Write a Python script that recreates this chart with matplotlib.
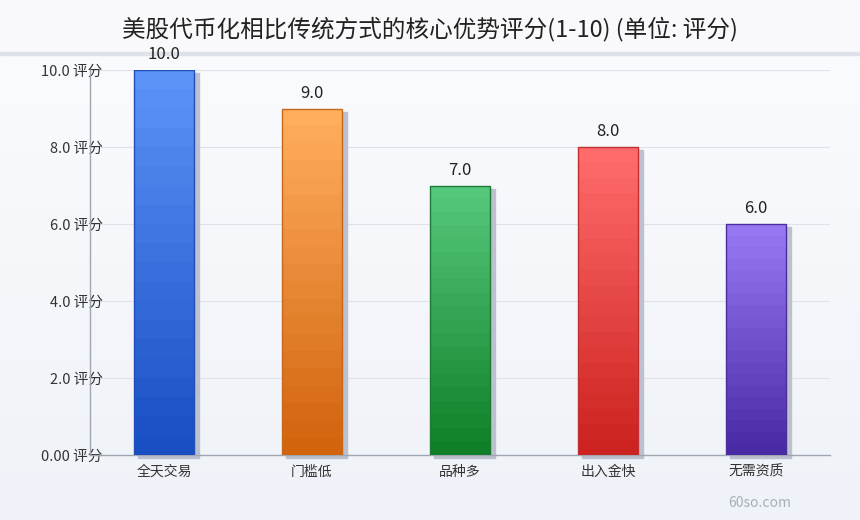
import numpy as np
import matplotlib
matplotlib.use("Agg")
import matplotlib.pyplot as plt
from matplotlib.colors import LinearSegmentedColormap
from matplotlib.patches import Rectangle

plt.rcParams["font.family"] = ["Noto Sans CJK SC", "DejaVu Sans"]

TITLE = "美股代币化相比传统方式的核心优势评分(1-10) (单位: 评分)"
categories = ["全天交易", "门槛低", "品种多", "出入金快", "无需资质"]
scores = [10.0, 9.0, 7.0, 8.0, 6.0]
y_ticks = [0, 2, 4, 6, 8, 10]
y_tick_labels = ["0.00 评分", "2.0 评分", "4.0 评分", "6.0 评分", "8.0 评分", "10.0 评分"]
top_colors = ["#5b93f7", "#ffae5e", "#56c87c", "#ff6b6b", "#9878f2"]
bottom_colors = ["#1a4fc4", "#d2640e", "#108028", "#cc2320", "#4a2ba6"]
edge_colors = ["#1f4fb8", "#c8671a", "#1c7a34", "#c03030", "#4a2e9e"]

W, H = 860, 520
fig = plt.figure(figsize=(W / 100, H / 100), dpi=100)

# background
bg = fig.add_axes([0, 0, 1, 1], zorder=-10)
bg.set_axis_off()
grad = np.linspace(0, 1, 256).reshape(-1, 1)
bg_cmap = LinearSegmentedColormap.from_list("bg", ["#fbfcfe", "#eff2f8"])
bg.imshow(grad, aspect="auto", cmap=bg_cmap, extent=[0, 1, 0, 1], origin="upper")
bg.set_xlim(0, 1)
bg.set_ylim(0, 1)
bg.add_patch(Rectangle((0, 1 - 55 / H), 1, 55 / H, color="#f9f9fb", zorder=1))
bg.add_patch(Rectangle((0, 1 - 55 / H), 1, 3 / H, color="#dfe1e8", zorder=2))

fig.text(0.5, 1 - 29 / H, TITLE, ha="center", va="center", fontsize=17, color="#222222")
fig.text(760 / W, 1 - 503 / H, "60so.com", ha="center", va="center", fontsize=10, color="#a8adba")

ax = fig.add_axes([90 / W, 65 / H, 740 / W, 385 / H])
ax.patch.set_alpha(0)
x = np.arange(len(categories))
width = 0.41

for i, (val, c0, c1, ec) in enumerate(zip(scores, top_colors, bottom_colors, edge_colors)):
    # shadow
    ax.add_patch(Rectangle((x[i] - width / 2 + 0.03, -0.08), width, val, color="#bcc0cf",
                           zorder=2, clip_on=False))
    rect = Rectangle((x[i] - width / 2, 0), width, val, facecolor="none", edgecolor=ec,
                     linewidth=1, zorder=4)
    ax.add_patch(rect)
    steps = np.linspace(0, 1, 20).reshape(-1, 1)
    cmap = LinearSegmentedColormap.from_list(f"g{i}", [c0, c1])
    im = ax.imshow(steps, aspect="auto", cmap=cmap, origin="upper",
                   extent=[x[i] - width / 2, x[i] + width / 2, 0, val], zorder=3,
                   interpolation="nearest")
    im.set_clip_path(rect)
    ax.annotate(f"{val:.1f}", (x[i], val), xytext=(0, 5), textcoords="offset points",
                ha="center", va="bottom", fontsize=12, color="#222222")

ax.set_aspect("auto")
ax.set_xlim(-0.5, len(categories) - 0.5)
ax.set_ylim(0, 10)
ax.set_xticks(x)
ax.set_xticklabels(categories, fontsize=10, color="#333333")
ax.set_yticks(y_ticks)
ax.set_yticklabels(y_tick_labels, fontsize=10.5, color="#333333")
ax.tick_params(axis="both", length=0)
ax.tick_params(axis="x", pad=7)
ax.tick_params(axis="y", pad=-9)
ax.grid(axis="y", color="#dfe2ea", linewidth=0.8, zorder=0)
ax.set_axisbelow(True)
for s in ["top", "right"]:
    ax.spines[s].set_visible(False)
for s in ["left", "bottom"]:
    ax.spines[s].set_color("#a0a5b2")
    ax.spines[s].set_linewidth(1)

fig.savefig("out.png", dpi=100)
